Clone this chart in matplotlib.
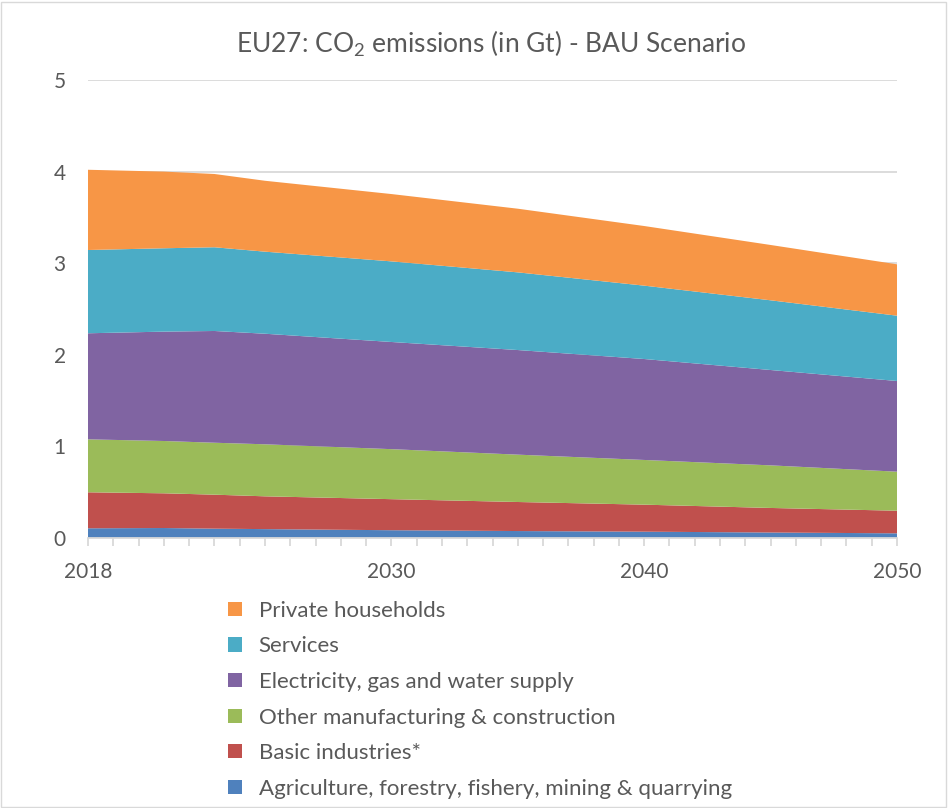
import matplotlib
matplotlib.use("Agg")
import matplotlib.pyplot as plt
from matplotlib.patches import Patch, Rectangle

plt.rcParams['font.family'] = ['Lato', 'DejaVu Sans']
plt.rcParams['mathtext.fontset'] = 'custom'
plt.rcParams['mathtext.rm'] = 'Lato'

# CO2 emissions by sector, Gt (BAU scenario)
years = [2018, 2021, 2023, 2025, 2030, 2035, 2040, 2045, 2050]
agriculture = [0.106, 0.109, 0.102, 0.097, 0.085, 0.076, 0.069, 0.060, 0.051]
basic_industries = [0.393, 0.379, 0.371, 0.358, 0.339, 0.317, 0.295, 0.268, 0.247]
other_manufacturing = [0.578, 0.571, 0.567, 0.568, 0.546, 0.517, 0.488, 0.465, 0.426]
electricity = [1.158, 1.194, 1.220, 1.207, 1.170, 1.142, 1.102, 1.041, 0.990]
services = [0.909, 0.910, 0.914, 0.896, 0.880, 0.848, 0.801, 0.761, 0.713]
households = [0.876, 0.837, 0.800, 0.774, 0.735, 0.695, 0.651, 0.604, 0.561]

labels = [
    "Agriculture, forestry, fishery, mining & quarrying",
    "Basic industries*",
    "Other manufacturing & construction",
    "Electricity, gas and water supply",
    "Services",
    "Private households",
]
colors = ["#4F81BD", "#C0504D", "#9BBB59", "#8064A2", "#4BACC6", "#F79646"]
xtick_years = [2018, 2030, 2040, 2050]

text_gray = "#595959"
grid_gray = "#D9D9D9"

fig = plt.figure(figsize=(9.48, 8.08), dpi=100)
ax = fig.add_axes([88 / 948, 1 - 538 / 808, 809 / 948, 458 / 808])

series = [agriculture, basic_industries, other_manufacturing,
          electricity, services, households]
ax.stackplot(years, *series, colors=colors, labels=labels, linewidth=0)

ax.set_xlim(2018, 2050)
ax.set_ylim(0, 5)
ax.set_yticks(range(0, 6))
ax.yaxis.grid(True, color=grid_gray, linewidth=1.3)
ax.set_axisbelow(True)

ax.set_xticks(xtick_years)
ax.set_xticks(range(2018, 2051), minor=True)
ax.tick_params(axis='x', which='both', direction='out', length=6,
               color=grid_gray, width=1.3, labelsize=15,
               labelcolor=text_gray, pad=11)
ax.tick_params(axis='y', length=0, labelsize=15, labelcolor=text_gray, pad=16)

for side in ("top", "right", "left"):
    ax.spines[side].set_visible(False)
ax.spines["bottom"].set_color(grid_gray)
ax.spines["bottom"].set_linewidth(1.3)

fig.text(491 / 948, 1 - 44 / 808,
         r"EU27: CO$\mathregular{_2}$ emissions (in Gt) - BAU Scenario",
         ha="center", va="center", fontsize=19, color=text_gray)

handles = [Patch(facecolor=c, edgecolor='none') for c in colors][::-1]
fig.legend(handles, labels[::-1], loc="upper left",
           bbox_to_anchor=(219 / 948, 1 - 592 / 808),
           frameon=False, fontsize=16, labelcolor=text_gray,
           handlelength=0.62, handleheight=0.62, handletextpad=0.76,
           labelspacing=0.70, borderaxespad=0)

fig.add_artist(Rectangle((0.001, 0.001), 0.997, 0.997, transform=fig.transFigure,
                         fill=False, edgecolor=grid_gray, linewidth=1))

fig.savefig("out.png", dpi=100)
